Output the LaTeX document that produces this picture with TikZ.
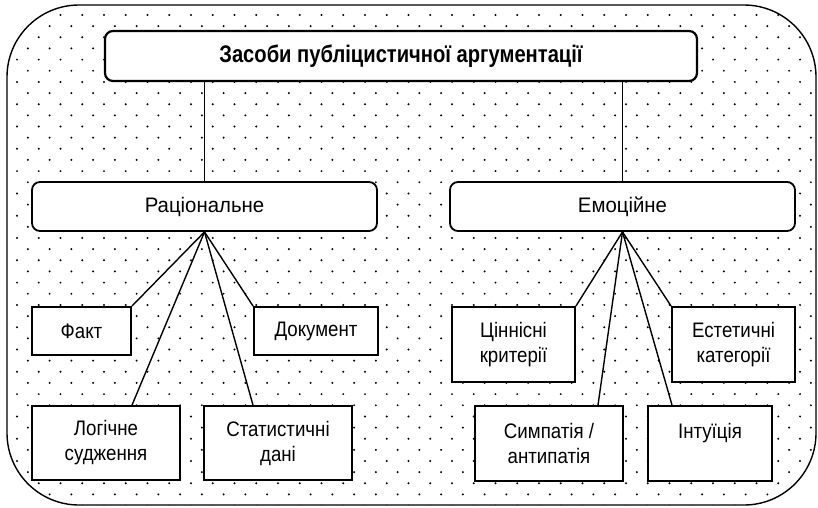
\documentclass[tikz,border=0pt]{standalone}
\usepackage{fontspec}
\setmainfont{Liberation Sans}[FakeStretch=0.89]
\newfontfamily\headfont{Liberation Sans}[FakeStretch=0.97]
\newfontfamily\titlefont{Liberation Sans}[FakeStretch=0.84]
\usetikzlibrary{calc}

\tikzset{
  box/.style={draw, fill=white, line width=1.8pt, align=center, inner sep=0pt,
    font=\fontsize{21}{25}\selectfont},
  rbox/.style={box, rounded corners=8pt},
  headbox/.style={rbox, minimum width=345, minimum height=49,
    font=\headfont\fontsize{21}{25}\selectfont},
  link/.style={line width=1.4pt},
  dotfill/.style={fill=black}
}

\begin{document}
\begin{tikzpicture}[x=1pt, y=-1pt]
  \useasboundingbox (0,0) rectangle (818,507);

  % dotted background inside the rounded frame
  \begin{scope}
    \clip[rounded corners=72pt] (7,5) rectangle (816,505);
    \foreach \j in {0,...,44} {
      \foreach \i in {0,...,37} {
        \fill[dotfill] ({17+21.75*\i-10.875*mod(\j,2)}, {15+11.15*\j}) circle[radius=1.1];
      }
    }
  \end{scope}
  \draw[line width=1.4pt, rounded corners=72pt] (7,5) rectangle (816,505);

  % headings
  \node[rbox, line width=2.2pt, minimum width=592, minimum height=50,
        font=\titlefont\fontsize{24}{28}\selectfont\bfseries] (title) at (401,56)
        {Засоби публіцистичної аргументації};
  \node[headbox] (rat) at (204.5,206.5) {Раціональне};
  \node[headbox] (emo) at (622.5,206.5) {Емоційне};

  % rational means
  \node[box, minimum width=99, minimum height=48] (fact) at (81.5,331) {Факт};
  \node[box, minimum width=124, minimum height=48] (doc) at (316,331) {Документ};
  \node[box, minimum width=148, minimum height=74] (logic) at (106,443) {Логічне\\судження};
  \node[box, minimum width=148, minimum height=74] (stat) at (278,443) {Статистичні\\дані};

  % emotional means
  \node[box, minimum width=123, minimum height=75] (value) at (513.5,344.5) {Ціннісні\\критерії};
  \node[box, minimum width=123, minimum height=75] (aest) at (733.5,344.5) {Естетичні\\категорії};
  \node[box, minimum width=148, minimum height=75] (symp) at (549,443.5) {Симпатія /\\антипатія};
  \node[box, minimum width=124, minimum height=75] (intu) at (710,443.5) {Інтуїція\\\mbox{}};

  % top level connectors
  \draw[link] (rat.north) -- (rat.north |- title.south);
  \draw[link] (emo.north) -- (emo.north |- title.south);

  % fans
  \draw[link] (rat.south) -- (fact.north east);
  \draw[link] (rat.south) -- ($(logic.north)+(26,0)$);
  \draw[link] (rat.south) -- ($(stat.north)+(-25,0)$);
  \draw[link] (rat.south) -- (doc.north west);

  \draw[link] (emo.south) -- (value.north east);
  \draw[link] (emo.south) -- ($(symp.north)+(49,0)$);
  \draw[link] (emo.south) -- ($(intu.north)+(-38,0)$);
  \draw[link] (emo.south) -- (aest.north west);
\end{tikzpicture}
\end{document}
